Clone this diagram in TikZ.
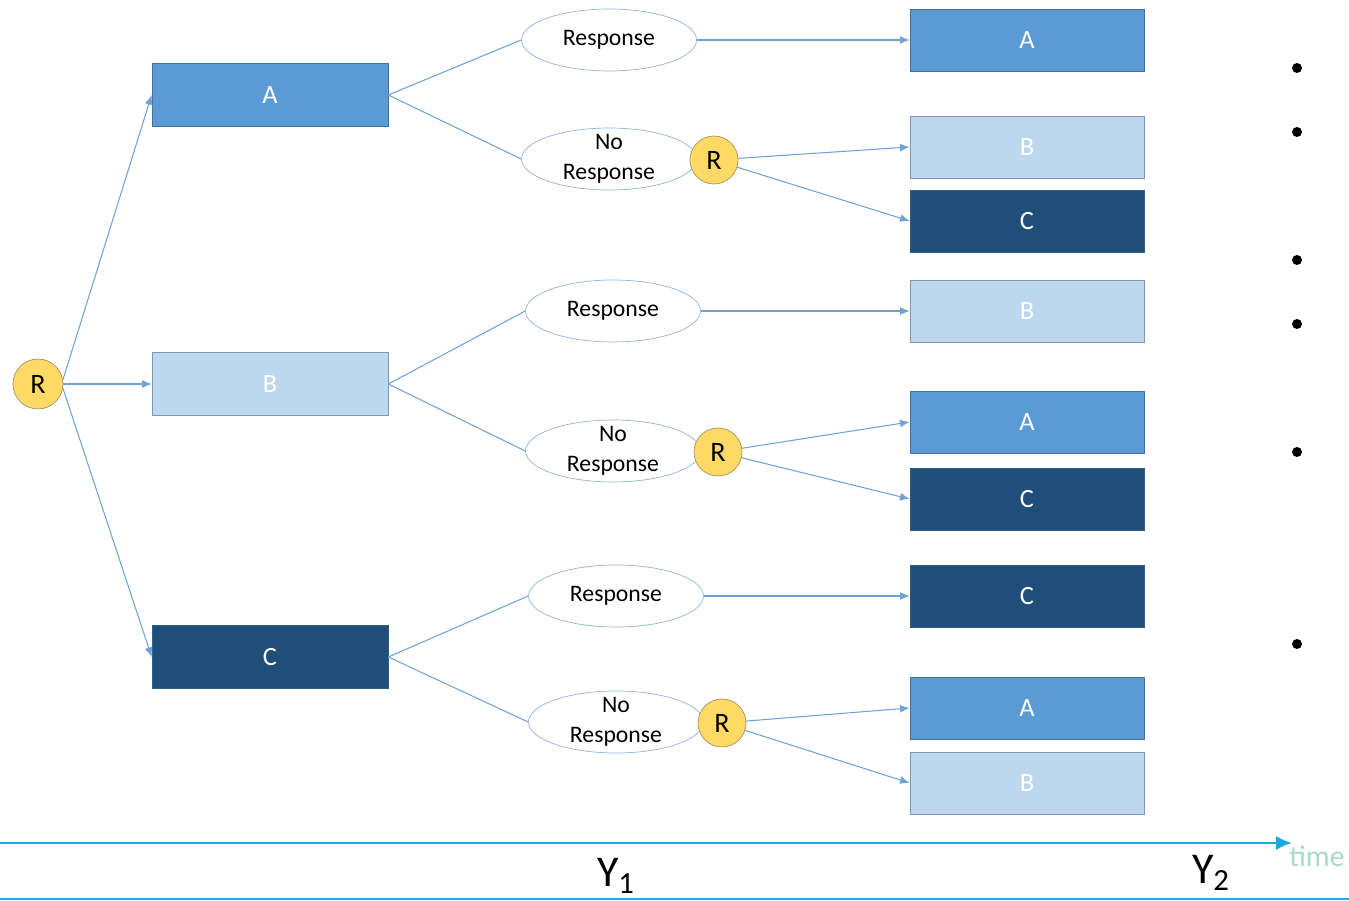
\documentclass[tikz,border=0pt]{standalone}
\usepackage{fontspec}
\setmainfont{Carlito}
\usetikzlibrary{shapes.geometric,arrows.meta}
\definecolor{cA}{HTML}{5B9BD5}
\definecolor{cAb}{HTML}{41719C}
\definecolor{cB}{HTML}{BDD7EE}
\definecolor{cBb}{HTML}{7F97B5}
\definecolor{cC}{HTML}{1F4E79}
\definecolor{cCb}{HTML}{2E5F8A}
\definecolor{cR}{HTML}{FFD966}
\definecolor{cRb}{HTML}{A89060}
\definecolor{cLine}{HTML}{6FA3D8}
\definecolor{cEll}{HTML}{8FB4DA}
\definecolor{cTime}{HTML}{1FA8E0}
\definecolor{cTimeTxt}{HTML}{A8DCC8}
\tikzset{
  boxA/.style={rectangle,draw=cAb,fill=cA,text=white,minimum width=4.72cm,minimum height=1.26cm,font=\fontsize{15}{18}\selectfont},
  boxB/.style={boxA,draw=cBb,fill=cB},
  boxC/.style={boxA,draw=cCb,fill=cC},
  rboxA/.style={boxA,minimum width=4.68cm,minimum height=1.24cm},
  rboxB/.style={boxB,minimum width=4.68cm,minimum height=1.24cm},
  rboxC/.style={boxC,minimum width=4.68cm,minimum height=1.24cm},
  rnode/.style={circle,draw=cRb,fill=cR,minimum size=0.96cm,inner sep=0pt,font=\fontsize{16}{18}\selectfont},
  resp/.style={ellipse,draw=cEll,fill=white,minimum width=3.5cm,minimum height=1.24cm,inner sep=-6pt,align=center,font=\fontsize{13.5}{17}\selectfont},
  conn/.style={draw=cLine,line width=0.6pt},
  arr/.style={conn,-{Latex[length=5.5pt,width=4.5pt]}},
  bul/.style={circle,fill=black,minimum size=0.2cm,inner sep=0pt}
}
\begin{document}
\begin{tikzpicture}[x=0.02cm,y=-0.02cm]
\useasboundingbox (0,0) rectangle (1349,901);
% left column
\node[rnode,minimum size=1cm] (R0) at (38,384) {R};
\node[boxA] (A1) at (270,95) {A};
\node[boxB] (B1) at (270,384) {B};
\node[boxC] (C1) at (270,657) {C};
% ellipses
\node[resp] (E1) at (609,40) {Response};
\node[resp] (E2) at (609,159) {No\\Response};
\node[resp] (E3) at (613,311) {Response};
\node[resp] (E4) at (613,451) {No\\Response};
\node[resp] (E5) at (616,596) {Response};
\node[resp] (E6) at (616,722) {No\\Response};
% R circles
\node[rnode] (R1) at (714,160) {R};
\node[rnode] (R2) at (718,452) {R};
\node[rnode] (R3) at (722,723) {R};
% right boxes
\node[rboxA] (F1) at (1027,40) {A};
\node[rboxB] (F2) at (1027,147) {B};
\node[rboxC] (F3) at (1027,221) {C};
\node[rboxB] (F4) at (1027,311) {B};
\node[rboxA] (F5) at (1027,422) {A};
\node[rboxC] (F6) at (1027,499) {C};
\node[rboxC] (F7) at (1027,596) {C};
\node[rboxA] (F8) at (1027,708) {A};
\node[rboxB] (F9) at (1027,783) {B};
% root arrows
\draw[arr] (R0.10) -- (A1.west);
\draw[arr] (R0.east) -- (B1.west);
\draw[arr] (R0.-10) -- (C1.west);
% box to ellipses
\draw[conn] (A1.east) -- (E1.west);
\draw[conn] (A1.east) -- (E2.west);
\draw[conn] (B1.east) -- (E3.west);
\draw[conn] (B1.east) -- (E4.west);
\draw[conn] (C1.east) -- (E5.west);
\draw[conn] (C1.east) -- (E6.west);
% response arrows
\draw[arr] (E1.east) -- (F1.west);
\draw[arr] (E3.east) -- (F4.west);
\draw[arr] (E5.east) -- (F7.west);
% R arrows
\draw[arr] (R1) -- (F2.west);
\draw[arr] (R1) -- (F3.west);
\draw[arr] (R2) -- (F5.west);
\draw[arr] (R2) -- (F6.west);
\draw[arr] (R3) -- (F8.west);
\draw[arr] (R3) -- (F9.west);
% timeline
\coordinate (T0) at (0,843);
\coordinate (T1) at (1292,843);
\draw[cTime,line width=1.3pt,-{Latex[length=9pt,width=8pt]}] (T0) -- (T1);
\coordinate (L0) at (0,899);
\coordinate (L1) at (1349,899);
\draw[cTime,line width=1.3pt] (L0) -- (L1);
\node[text=cTimeTxt,font=\fontsize{17}{19}\selectfont] (time) at (1317,856) {time};
\node[font=\fontsize{25}{28}\selectfont] (Y1) at (616,876) {Y\textsubscript{1}};
\node[font=\fontsize{25}{28}\selectfont] (Y2) at (1211,873) {Y\textsubscript{2}};
% bullets
\node[bul] (b1) at (1297,68) {};
\node[bul] (b2) at (1297,132) {};
\node[bul] (b3) at (1297,260) {};
\node[bul] (b4) at (1297,324) {};
\node[bul] (b5) at (1297,452) {};
\node[bul] (b6) at (1297,644) {};
\end{tikzpicture}
\end{document}
